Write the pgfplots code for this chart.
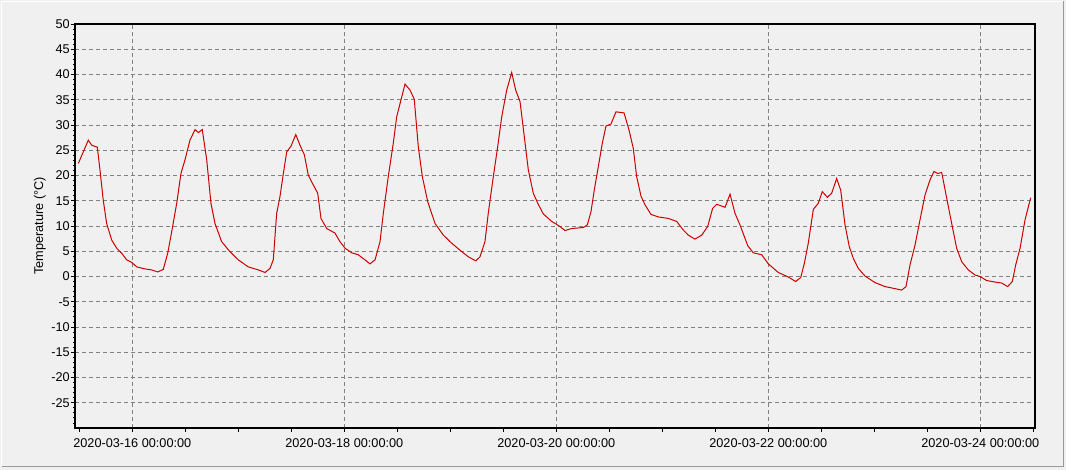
\documentclass[border=0pt]{standalone}
\usepackage{fontspec}
\setmainfont{Liberation Sans}
\usepackage{pgfplots}
\pgfplotsset{compat=1.18}
\definecolor{bgc}{RGB}{240,240,240}
\definecolor{gridc}{RGB}{128,128,128}
\definecolor{linec}{RGB}{204,0,0}
\begin{document}
\begin{tikzpicture}[x=1pt,y=1pt]
\useasboundingbox (0,0) rectangle (1066,470);
\fill[bgc] (0,0) rectangle (1066,470);
\draw[white,line width=1pt] (1.5,3.5) -- (1.5,468.5) -- (1063.5,468.5);
\draw[gray!80,line width=1.2pt] (1.5,3.5) -- (1063.5,3.5) -- (1063.5,468.5);
\begin{axis}[
  at={(75pt,42pt)}, anchor=south west,
  width=960pt, height=404pt, scale only axis,
  xmin=-0.5406, xmax=8.5160, ymin=-30, ymax=50,
  font=\fontsize{12.7}{14}\selectfont,
  xtick={0,2,4,6,8},
  xticklabels={2020-03-16 00:00:00,2020-03-18 00:00:00,2020-03-20 00:00:00,2020-03-22 00:00:00,2020-03-24 00:00:00},
  extra x ticks={-0.5,0.5,1,1.5,2.5,3,3.5,4.5,5,5.5,6.5,7,7.5,8.5},
  extra x tick labels={},
  extra x tick style={xmajorgrids=false},
  ytick={-25,-20,-15,-10,-5,0,5,10,15,20,25,30,35,40,45,50},
  yticklabels={-25,-20,-15,-10,-5,0,5,10,15,20,25,30,35,40,45,50},
  minor ytick={-29,-28,...,49},
  tick align=outside,
  major tick length=4pt, minor tick length=2pt,
  every tick/.style={black,line width=0.8pt},
  xtick pos=bottom, ytick pos=left,
  xmajorgrids, ymajorgrids,
  major grid style={gridc,line width=0.8pt,dash pattern=on 4pt off 3pt},
  axis line style={black,line width=1.8pt},
  yticklabel style={anchor=east,inner sep=0pt,xshift=-1pt},
  xticklabel style={anchor=north,inner sep=0pt,yshift=-6pt},
  ylabel={Temperature (°C)},
  every axis y label/.style={at={(axis description cs:-0.0365,0.5)},rotate=90,anchor=center},
  clip=true,
]
\addplot[linec,line width=1pt] coordinates {
(-0.509,22.4)(-0.415,27.0)(-0.383,26.0)(-0.330,25.6)(-0.305,21.1)(-0.274,15.1)
(-0.242,10.5)(-0.194,7.2)(-0.147,5.6)(-0.100,4.6)(-0.053,3.3)(-0.006,2.8)
(0.042,1.9)(0.120,1.5)(0.183,1.3)(0.240,0.9)(0.292,1.4)(0.334,4.6)
(0.372,8.9)(0.419,14.5)(0.459,20.4)(0.497,23.1)(0.544,27.0)(0.592,29.1)
(0.623,28.5)(0.660,29.1)(0.702,23.1)(0.742,14.5)(0.780,10.5)(0.843,6.9)
(0.922,4.9)(1.000,3.3)(1.094,1.9)(1.189,1.3)(1.252,0.8)(1.299,1.6)
(1.330,3.3)(1.362,12.5)(1.393,15.8)(1.425,20.4)(1.457,24.7)(1.497,25.8)
(1.542,28.1)(1.582,26.0)(1.623,24.1)(1.660,20.1)(1.708,18.1)(1.749,16.5)
(1.780,11.5)(1.834,9.5)(1.912,8.6)(1.959,6.9)(2.007,5.6)(2.070,4.7)
(2.132,4.3)(2.195,3.3)(2.242,2.5)(2.290,3.3)(2.337,6.9)(2.368,12.5)
(2.415,19.8)(2.462,26.4)(2.494,31.6)(2.535,35.0)(2.573,38.1)(2.620,36.9)
(2.660,35.1)(2.698,25.7)(2.736,19.8)(2.787,14.8)(2.856,10.5)(2.934,8.2)
(3.013,6.6)(3.092,5.2)(3.170,3.9)(3.240,3.1)(3.280,3.9)(3.327,6.9)
(3.358,12.5)(3.406,19.8)(3.447,25.7)(3.485,31.6)(3.532,36.9)(3.579,40.4)
(3.617,36.9)(3.658,34.6)(3.698,27.7)(3.736,21.1)(3.783,16.5)(3.825,14.5)
(3.877,12.4)(3.957,10.9)(4.035,9.9)(4.082,9.1)(4.145,9.5)(4.255,9.7)
(4.292,10.2)(4.327,12.8)(4.358,17.1)(4.396,21.7)(4.434,26.4)(4.469,29.8)
(4.516,30.2)(4.563,32.6)(4.639,32.4)(4.686,29.0)(4.726,25.4)(4.758,19.8)
(4.799,15.9)(4.837,14.2)(4.893,12.3)(4.962,11.8)(5.057,11.5)(5.136,10.9)
(5.198,9.2)(5.245,8.2)(5.308,7.4)(5.372,8.2)(5.428,9.9)(5.475,13.5)
(5.513,14.3)(5.592,13.7)(5.639,16.3)(5.686,12.5)(5.733,10.2)(5.806,6.1)
(5.858,4.7)(5.938,4.3)(6.000,2.5)(6.094,0.8)(6.189,-0.1)(6.258,-1.0)
(6.306,-0.2)(6.340,2.6)(6.377,6.6)(6.425,13.3)(6.472,14.5)(6.509,16.8)
(6.557,15.7)(6.598,16.5)(6.645,19.4)(6.683,17.1)(6.724,10.2)(6.764,5.9)
(6.802,3.6)(6.849,1.6)(6.912,0.1)(7.006,-1.2)(7.101,-2.0)(7.195,-2.4)
(7.258,-2.7)(7.299,-2.0)(7.337,2.3)(7.384,6.2)(7.431,11.2)(7.478,16.1)
(7.525,19.1)(7.563,20.8)(7.598,20.4)(7.636,20.6)(7.683,15.5)(7.730,10.5)
(7.777,5.6)(7.825,2.9)(7.887,1.3)(7.950,0.3)(7.997,0.0)(8.060,-0.8)
(8.139,-1.1)(8.202,-1.3)(8.258,-2.0)(8.302,-1.0)(8.334,2.3)(8.375,5.6)
(8.422,11.2)(8.475,15.6)
};
\end{axis}
\end{tikzpicture}
\end{document}
